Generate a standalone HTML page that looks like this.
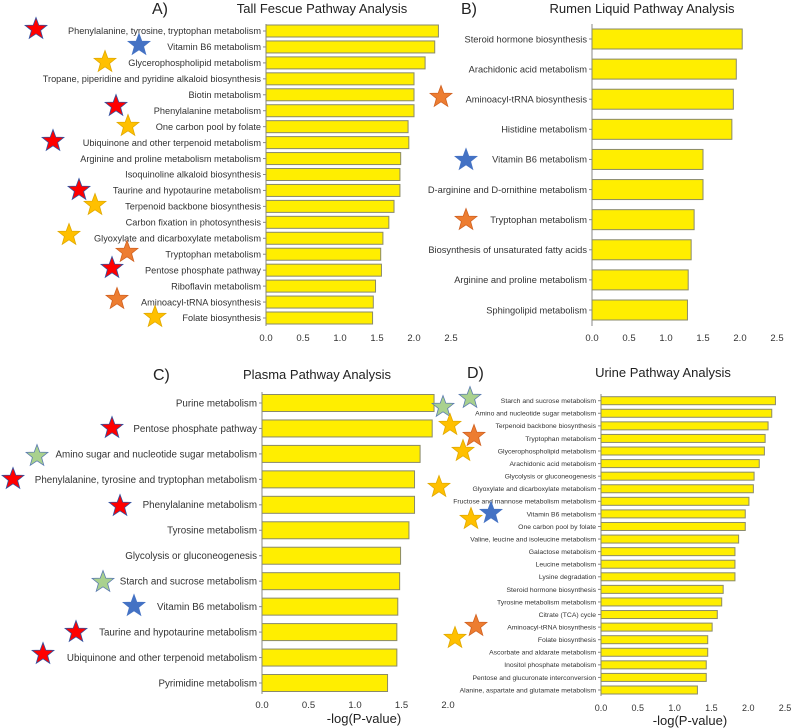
<!DOCTYPE html>
<html><head><meta charset="utf-8"><style>
body{margin:0;background:#fff}
svg{display:block;font-family:"Liberation Sans",sans-serif;fill:#333}
</style></head><body>
<svg id="c" width="792" height="728" viewBox="0 0 792 728" xmlns="http://www.w3.org/2000/svg"></svg>
<script>
const aLabels=["Phenylalanine, tyrosine, tryptophan metabolism","Vitamin B6 metabolism","Glycerophospholipid metabolism","Tropane, piperidine and pyridine alkaloid biosynthesis","Biotin metabolism","Phenylalanine metabolism","One carbon pool by folate","Ubiquinone and other terpenoid metabolism","Arginine and proline metabolism metabolism","Isoquinoline alkaloid biosynthesis","Taurine and hypotaurine metabolism","Terpenoid backbone biosynthesis","Carbon fixation in photosynthesis","Glyoxylate and dicarboxylate metabolism","Tryptophan metabolism","Pentose phosphate pathway","Riboflavin metabolism","Aminoacyl-tRNA biosynthesis","Folate biosynthesis"];
const aValues=[2.33,2.28,2.15,2.0,2.0,2.0,1.92,1.93,1.82,1.81,1.81,1.73,1.66,1.58,1.55,1.56,1.48,1.45,1.44];
const bLabels=["Steroid hormone biosynthesis","Arachidonic acid metabolism","Aminoacyl-tRNA biosynthesis","Histidine metabolism","Vitamin B6 metabolism","D-arginine and D-ornithine metabolism","Tryptophan metabolism","Biosynthesis of unsaturated fatty acids","Arginine and proline metabolism","Sphingolipid metabolism"];
const bValues=[2.03,1.95,1.91,1.89,1.50,1.50,1.38,1.34,1.30,1.29];
const cLabels=["Purine metabolism","Pentose phosphate pathway","Amino sugar and nucleotide sugar metabolism","Phenylalanine, tyrosine and tryptophan metabolism","Phenylalanine metabolism","Tyrosine metabolism","Glycolysis or gluconeogenesis","Starch and sucrose metabolism","Vitamin B6 metabolism","Taurine and hypotaurine metabolism","Ubiquinone and other terpenoid metabolism","Pyrimidine metabolism"];
const cValues=[1.85,1.83,1.70,1.64,1.64,1.58,1.49,1.48,1.46,1.45,1.45,1.35];
const dLabels=["Starch and sucrose metabolism","Amino and nucleotide sugar metabolism","Terpenoid backbone biosynthesis","Tryptophan metabolism","Glycerophospholipid metabolism","Arachidonic acid metabolism","Glycolysis or gluconeogenesis","Glyoxylate and dicarboxylate metabolism","Fructose and mannose metabolism metabolism","Vitamin B6 metabolism","One carbon pool by folate","Valine, leucine and isoleucine metabolism","Galactose metabolism","Leucine metabolism","Lysine degradation","Steroid hormone biosynthesis","Tyrosine metabolism metabolism","Citrate (TCA) cycle","Aminoacyl-tRNA biosynthesis","Folate biosynthesis","Ascorbate and aldarate metabolism","Inositol phosphate metabolism","Pentose and glucuronate interconversion","Alanine, aspartate and glutamate metabolism"];
const dValues=[2.37,2.32,2.27,2.23,2.22,2.15,2.08,2.07,2.01,1.96,1.96,1.87,1.82,1.82,1.82,1.66,1.64,1.58,1.51,1.45,1.45,1.43,1.43,1.31];
const ticks=["0.0","0.5","1.0","1.5","2.0","2.5"];
const tickVals=[0,0.5,1,1.5,2,2.5];

const svg=document.getElementById('c');
const NS="http://www.w3.org/2000/svg";
function mk(tag,attrs,parent){const e=document.createElementNS(NS,tag);for(const k in attrs)e.setAttribute(k,attrs[k]);(parent||svg).appendChild(e);return e;}

function panel(id,labels,values,cfg){
  const g=mk('g',{});
  
  
  const x=v=>cfg.x0+v*cfg.ppu;
  const n=labels.length;
  const y=i=>cfg.yFirst+i*(cfg.yLast-cfg.yFirst)/(n-1);
  const ax=mk('line',{x1:cfg.x0,x2:cfg.x0,y1:cfg.axTop,y2:cfg.axBot,stroke:'#888','stroke-width':1},g);
  
  
  labels.forEach((l,i)=>{
    const r=mk('rect',{x:x(0),y:y(i)-cfg.bh/2,width:x(values[i])-x(0),height:cfg.bh,fill:'#ffee00',stroke:'#8a8a6a','stroke-width':1},g);
    
    
    mk('line',{x1:cfg.x0-3,x2:cfg.x0,y1:y(i),y2:y(i),stroke:'#888'},g);
    const t=mk('text',{x:cfg.x0-5,y:y(i)+cfg.fs*0.35,'text-anchor':'end','font-size':cfg.fs},g);
    t.textContent=l;
    
    
  });
  tickVals.slice(0,cfg.nt||6).forEach((v,i)=>{
    const t=mk('text',{x:x(v),y:cfg.tickY,'text-anchor':'middle','font-size':cfg.tfs},g);
    t.textContent=ticks[i];
    
    
  });
  const tt=mk('text',{x:cfg.titleX,y:cfg.titleY,'text-anchor':'middle','font-size':13,fill:'#222'},g);
  tt.textContent=cfg.title;
  
  
  const pl=mk('text',{x:cfg.letterX,y:cfg.titleY+1,'font-size':16,fill:'#222'},g);
  pl.textContent=cfg.letter;
  
  
  if(cfg.xTitle){
    const xt=mk('text',{x:cfg.xTitleX,y:cfg.xTitleY,'text-anchor':'middle','font-size':13,fill:'#222'},g);
    xt.textContent='-log(P-value)';
    
    
  }
}
panel('tall-fescue',aLabels,aValues,{x0:266,ppu:74,yFirst:31,yLast:318,bh:12,axTop:24,axBot:326,fs:9.2,tfs:9.5,tickY:341,title:'Tall Fescue Pathway Analysis',titleX:322,titleY:13,letter:'A)',letterX:152});
panel('rumen-liquid',bLabels,bValues,{x0:592,ppu:74,yFirst:39,yLast:310,bh:20,axTop:24,axBot:326,fs:9.3,tfs:9.5,tickY:341,title:'Rumen Liquid Pathway Analysis',titleX:642,titleY:13,letter:'B)',letterX:461});
panel('plasma',cLabels,cValues,{x0:262,ppu:93,yFirst:403,yLast:683,bh:17,axTop:392,axBot:694,fs:9.8,tfs:9.5,tickY:708,title:'Plasma Pathway Analysis',titleX:317,titleY:379,letter:'C)',letterX:153,nt:5,xTitle:1,xTitleX:364,xTitleY:723});
panel('urine',dLabels,dValues,{x0:601,ppu:73.6,yFirst:400.7,yLast:690,bh:8,axTop:394,axBot:696,fs:6.8,tfs:9,tickY:711,title:'Urine Pathway Analysis',titleX:663,titleY:377,letter:'D)',letterX:467,xTitle:1,xTitleX:690,xTitleY:725});

const colors={r:'#ff0000',b:'#4472c4',g:'#ffc000',o:'#ed7d31',n:'#a9d18e'};
const strokes={r:'#3050a0',b:'#4472c4',g:'#e0a800',o:'#d06020',n:'#5a7ab0'};
const stars=[['r',36,29],['b',139,45],['g',105,62],['r',116,106],['g',128,126],['r',53,141],['r',79,190],['g',95,205],['g',69,235],['o',127,252],['r',112,268],['o',117,299],['g',155,317],
['o',441,97],['b',466,160],['o',466,220],
['r',112,428],['n',37,456],['r',13,479],['r',120,506],['n',103,582],['b',134,606],['r',76,632],['r',43,654],
['n',470,398],['n',443,407],['g',450,425],['o',474,436],['g',463,451],['g',439,487],['g',471,519],['b',491,513],['o',476,626],['g',455,638]];
function starPts(cx,cy,R){const r=R*0.42;let p=[];for(let i=0;i<10;i++){const a=-Math.PI/2+i*Math.PI/5;const rr=i%2?r:R;p.push((cx+rr*Math.cos(a)).toFixed(1)+','+(cy+rr*Math.sin(a)).toFixed(1));}return p.join(' ');}
stars.forEach(s=>{
  const p=mk('polygon',{points:starPts(s[1],s[2],11.5),fill:colors[s[0]],stroke:strokes[s[0]],'stroke-width':0.8});
  
  
});
</script>
</body></html>
